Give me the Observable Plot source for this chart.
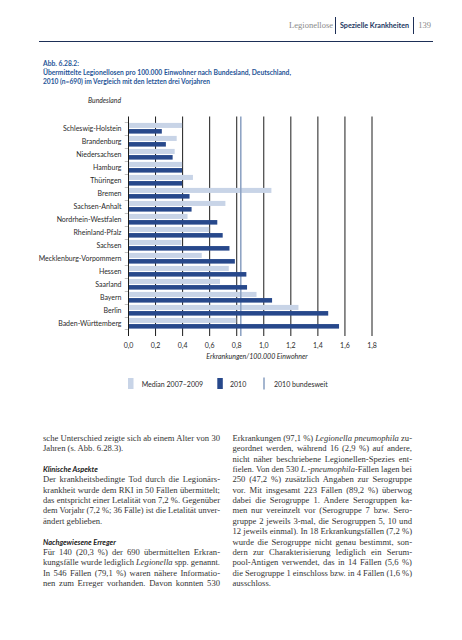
<!DOCTYPE html>
<html><head><meta charset="utf-8">
<script src="https://cdn.jsdelivr.net/npm/d3@7"></script>
<script src="https://cdn.jsdelivr.net/npm/@observablehq/plot@0.6"></script>
<style>
html,body{margin:0;padding:0;background:#fff;}
#page{position:relative;width:462px;height:640px;overflow:hidden;background:#fff;}
#chart{position:absolute;left:0;top:110px;}
#overlay{position:absolute;left:0;top:0;pointer-events:none;}
</style></head><body><div id="page"><div id="chart"></div></div>
<script>
// ---- data ----
const states = ["Schleswig-Holstein","Brandenburg","Niedersachsen","Hamburg","Thüringen","Bremen","Sachsen-Anhalt","Nordrhein-Westfalen","Rheinland-Pfalz","Sachsen","Mecklenburg-Vorpommern","Hessen","Saarland","Bayern","Berlin","Baden-Württemberg"];
const median0709 = [0.40,0.36,0.345,0.40,0.48,1.06,0.72,0.44,0.60,0.395,0.545,0.745,0.68,0.95,1.26,0.80];
const values2010 = [0.25,0.28,0.33,0.40,0.40,0.455,0.47,0.66,0.70,0.75,0.79,0.875,0.88,1.065,1.48,1.56];
const national2010 = 0.83;
const xTicks = [0,0.2,0.4,0.6,0.8,1.0,1.2,1.4,1.6,1.8];
const legendLabels = ["Median 2007–2009","2010","2010 bundesweit"];
const yAxisTitle = "Bundesland";
const xAxisTitle = "Erkrankungen/100.000 Einwohner";
const titleLines = ["Abb. 6.28.2:","Übermittelte Legionellosen pro 100.000 Einwohner nach Bundesland, Deutschland,","2010 (n=690) im Vergleich mit den letzten drei Vorjahren"];

const LIGHT = "#c8d4e7", DARK = "#27488b", NATIONAL = "#8fa4c4", GRID = "#1c1c1c", TITLE = "#1f5597";
const SANS = "Lato, 'Noto Sans', sans-serif";
const SERIF = "'Liberation Serif', serif";

// ---- chart ----
const H = 260, MT = 6.5, MB = 34;
const bw = (H - MT - MB) / states.length;
const data = states.map((s, i) => ({state: s, median: median0709[i], v: values2010[i]}));

const chart = Plot.plot({
  width: 462, height: H,
  marginLeft: 128, marginRight: 90.5, marginTop: MT, marginBottom: MB,
  style: {background: "transparent", fontFamily: SANS, fontSize: "7px", color: "#2a2a2a"},
  x: {domain: [0, 1.8], ticks: xTicks, tickSize: 0, tickPadding: 7, tickFormat: d => d.toFixed(1).replace(".", ","), label: null},
  y: {domain: states, padding: 0, tickSize: 0, tickPadding: 7, label: null},
  marks: [
    Plot.ruleX(xTicks.slice(1), {stroke: GRID, strokeWidth: 1}),
    Plot.barX(data, {y: "state", x: "median", fill: LIGHT, insetTop: 0.9, insetBottom: bw / 2 + 0.2}),
    Plot.ruleX([national2010], {stroke: NATIONAL, strokeWidth: 1.6}),
    Plot.barX(data, {y: "state", x: "v", fill: DARK, insetTop: bw / 2 + 0.2, insetBottom: 1.4}),
    Plot.barX(states, {y: d => d, x1: -0.024, x2: 0, fill: GRID, insetBottom: bw - 1}),
    Plot.barX([states[states.length - 1]], {y: d => d, x1: -0.024, x2: 0, fill: GRID, insetTop: bw - 1}),
    Plot.ruleX([0], {stroke: GRID, strokeWidth: 1}),
    Plot.text([xAxisTitle], {x: () => 0.95, frameAnchor: "bottom", dy: 22, text: d => d, fontStyle: "italic", fontSize: 7, fill: "#2a2a2a"})
  ]
});
document.getElementById("chart").appendChild(chart);

// ---- overlay text ----
const svg = d3.select("#page").append("svg").attr("id", "overlay").attr("width", 462).attr("height", 640);

// header
svg.append("line").attr("x1", 39).attr("x2", 433).attr("y1", 41.5).attr("y2", 41.5).attr("stroke", "#1d2f57").attr("stroke-width", 1);
svg.append("line").attr("x1", 335.5).attr("x2", 335.5).attr("y1", 17).attr("y2", 34).attr("stroke", "#1d2f57");
svg.append("line").attr("x1", 413.5).attr("x2", 413.5).attr("y1", 17).attr("y2", 34).attr("stroke", "#1d2f57");
svg.append("text").attr("x", 333).attr("y", 28).attr("text-anchor", "end").attr("font-family", SERIF).attr("font-size", 8.5).attr("fill", "#8a8a8a").text("Legionellose");
svg.append("text").attr("x", 340).attr("y", 28).attr("font-family", SANS).attr("font-weight", "bold").attr("font-size", 7.5).attr("fill", "#22355e").attr("textLength", 69).attr("lengthAdjust", "spacingAndGlyphs").text("Spezielle Krankheiten");
svg.append("text").attr("x", 431).attr("y", 28).attr("text-anchor", "end").attr("font-family", SERIF).attr("font-size", 8.5).attr("fill", "#8a8a8a").text("139");

// title
const titleW = [36, 248, 167];
titleLines.forEach((t, i) => {
  svg.append("text").attr("x", 43).attr("y", 65.8 + i * 8.9).attr("font-family", SANS).attr("font-weight", "bold").attr("font-size", 7.2).attr("fill", TITLE)
    .attr("textLength", titleW[i]).attr("lengthAdjust", "spacingAndGlyphs").text(t);
});
svg.append("text").attr("x", 88).attr("y", 102.5).attr("font-family", SANS).attr("font-style", "italic").attr("font-size", 6.8).attr("fill", "#2a2a2a").text(yAxisTitle);

// legend
const lg = svg.append("g");
lg.append("rect").attr("x", 128).attr("y", 378).attr("width", 5.5).attr("height", 11).attr("fill", LIGHT);
lg.append("text").attr("x", 141.7).attr("y", 386.5).attr("font-family", SANS).attr("font-size", 7).attr("fill", "#2a2a2a").text(legendLabels[0]);
lg.append("rect").attr("x", 217.3).attr("y", 378).attr("width", 5.5).attr("height", 11).attr("fill", DARK);
lg.append("text").attr("x", 230).attr("y", 386.5).attr("font-family", SANS).attr("font-size", 7).attr("fill", "#2a2a2a").text(legendLabels[1]);
lg.append("line").attr("x1", 264).attr("x2", 264).attr("y1", 377.5).attr("y2", 389.5).attr("stroke", NATIONAL).attr("stroke-width", 1.6);
lg.append("text").attr("x", 274).attr("y", 386.5).attr("font-family", SANS).attr("font-size", 7).attr("fill", "#2a2a2a").text(legendLabels[2]);

// body text: [row, text, justify, style]  (*...* = italic)
const leftCol = [
  [0, "sche Unterschied zeigte sich ab einem Alter von 30", true],
  [1, "Jahren (s. Abb. 6.28.3).", false],
  [3, "Klinische Aspekte", false, "head"],
  [4, "Der krankheitsbedingte Tod durch die Legionärs-", true],
  [5, "krankheit wurde dem RKI in 50 Fällen übermittelt;", true],
  [6, "das entspricht einer Letalität von 7,2 %. Gegenüber", true],
  [7, "dem Vorjahr (7,2 %; 36 Fälle) ist die Letalität unver-", true],
  [8, "ändert geblieben.", false],
  [10, "Nachgewiesene Erreger", false, "head"],
  [11, "Für 140 (20,3 %) der 690 übermittelten Erkran-", true],
  [12, "kungsfälle wurde lediglich *Legionella* spp. genannt.", true],
  [13, "In 546 Fällen (79,1 %) waren nähere Informatio-", true],
  [14, "nen zum Erreger vorhanden. Davon konnten 530", true]
];
const rightCol = [
  [0, "Erkrankungen (97,1 %) *Legionella pneumophila* zu-", true],
  [1, "geordnet werden, während 16 (2,9 %) auf andere,", true],
  [2, "nicht näher beschriebene Legionellen-Spezies ent-", true],
  [3, "fielen. Von den 530 *L.-pneumophila*-Fällen lagen bei", true],
  [4, "250 (47,2 %) zusätzlich Angaben zur Serogruppe", true],
  [5, "vor. Mit insgesamt 223 Fällen (89,2 %) überwog", true],
  [6, "dabei die Serogruppe 1. Andere Serogruppen ka-", true],
  [7, "men nur vereinzelt vor (Serogruppe 7 bzw. Sero-", true],
  [8, "gruppe 2 jeweils 3-mal, die Serogruppen 5, 10 und", true],
  [9, "12 jeweils einmal). In 18 Erkrankungsfällen (7,2 %)", true],
  [10, "wurde die Serogruppe nicht genau bestimmt, son-", true],
  [11, "dern zur Charakterisierung lediglich ein Serum-", true],
  [12, "pool-Antigen verwendet, das in 14 Fällen (5,6 %)", true],
  [13, "die Serogruppe 1 einschloss bzw. in 4 Fällen (1,6 %)", true],
  [14, "ausschloss.", false]
];
function writeCol(lines, x0, width) {
  lines.forEach(([row, str, just, style]) => {
    const y = 440.8 + row * 10.37;
    const t = svg.append("text").attr("x", x0).attr("y", y).attr("fill", "#333");
    if (style === "head") {
      t.attr("font-family", SANS).attr("font-weight", "bold").attr("font-style", "italic").attr("font-size", 7.4).attr("fill", "#222").text(str);
      return;
    }
    t.attr("font-family", SERIF).attr("font-size", 8.6);
    str.split("*").forEach((seg, k) => {
      if (seg) t.append("tspan").attr("font-style", k % 2 ? "italic" : null).text(seg);
    });
    if (just) {
      const w = t.node().getComputedTextLength();
      const plain = str.replace(/\*/g, "");
      const spaces = (plain.match(/ /g) || []).length;
      if (w < width && spaces) t.style("word-spacing", ((width - w) / spaces) + "px");
      else if (w > width) t.attr("textLength", width).attr("lengthAdjust", "spacingAndGlyphs");
    }
  });
}
writeCol(leftCol, 43, 177);
writeCol(rightCol, 232.5, 179.5);
</script></body></html>
